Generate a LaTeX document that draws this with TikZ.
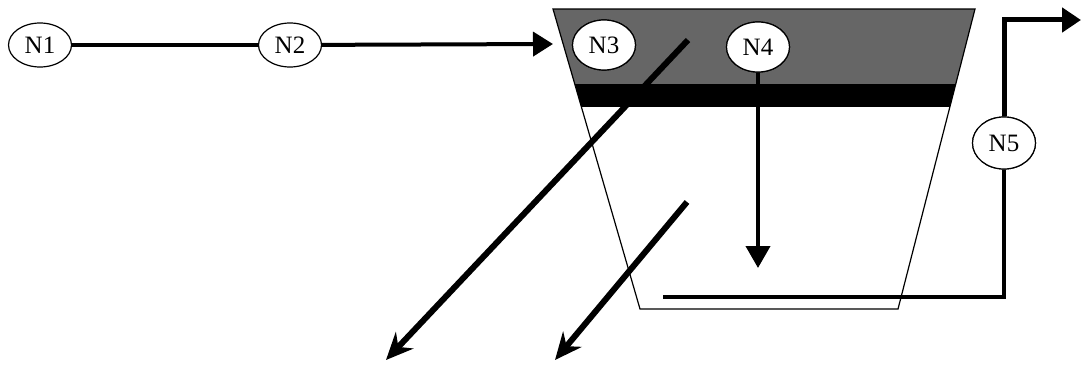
\documentclass[tikz,border=0pt]{standalone}
\usepackage{fontspec}
\setmainfont{Liberation Serif}
\usetikzlibrary{arrows.meta,shapes.geometric}
\tikzset{
	station/.style={ellipse,draw,line width=1.2pt,fill=white,inner sep=0pt,minimum width=63pt,minimum height=50pt,font=\fontsize{25}{29}\selectfont},
	flow/.style={line width=4pt},
	drop/.style={line width=6pt,-{Stealth[length=27pt,width=24pt,inset=9pt]}}
}
\begin{document}
\begin{tikzpicture}[x=1pt,y=-1pt]
	\useasboundingbox (0,0) rectangle (1081,366);
	% vessel
	\begin{scope}
	\clip (553,9) -- (975,9) -- (898,309) -- (640,309) -- cycle;
	\fill[black!60] (540,9) rectangle (990,84);
	\fill[black] (540,84) rectangle (990,107);
	\end{scope}
	\draw[line width=1.2pt] (553,9) -- (975,9) -- (898,309) -- (640,309) -- cycle;
	% stations
	\node[station,minimum height=44pt] (n1) at (40,45) {N1};
	\node[station,minimum height=44pt] (n2) at (290,45) {N2};
	\node[station] (n3) at (604,45) {N3};
	\node[station] (n4) at (758,47) {N4};
	\node[station,minimum height=52pt] (n5) at (1004,143) {N5};
	\coordinate (in) at (553,44);
	\coordinate (s1) at (688,40);
	\coordinate (e1) at (386,360);
	\coordinate (s2) at (687,202);
	\coordinate (e2) at (555,360);
	\coordinate (bot) at (758,268);
	\coordinate (b1) at (663,297);
	\coordinate (b2) at (1004,297);
	\coordinate (t1) at (1004,20);
	\coordinate (out) at (1081,20);
	% flows
	\draw[line width=3.5pt] (n1) -- (n2);
	\draw[flow,-{Triangle[length=20pt,width=24pt]}] (n2) -- (in);
	\draw[drop] (s1) -- (e1);
	\draw[drop] (s2) -- (e2);
	\draw[flow,-{Triangle[length=22pt,width=24pt]}] (n4.south) -- (bot);
	\draw[flow] (b1) -- (b2) -- (n5.south);
	\draw[line width=5pt,-{Triangle[length=19pt,width=24pt]}] (n5.north) -- (t1) -- (out);
	\node[station] at (n3) {N3};
	\node[station] at (n4) {N4};
	\node[station,minimum height=52pt] at (n5) {N5};
\end{tikzpicture}
\end{document}
